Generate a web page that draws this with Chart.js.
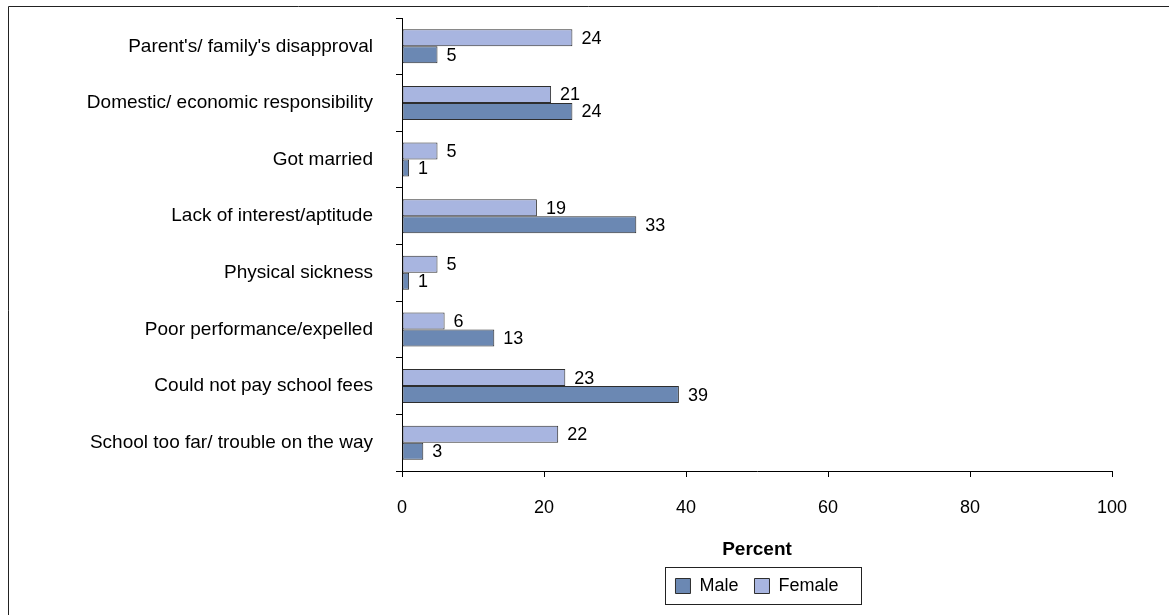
<!DOCTYPE html>
<html>
<head>
<meta charset="utf-8">
<script src="https://cdn.jsdelivr.net/npm/chart.js@4.4.0/dist/chart.umd.min.js"></script>
<style>
  html, body { margin: 0; padding: 0; background: #ffffff; }
  #wrap { width: 1169px; height: 615px; position: relative; }
</style>
</head>
<body>
<div id="wrap"><canvas id="chart" width="1169" height="615"></canvas></div>
<script>
// Reasons for leaving school, percent by sex
const categories = [
  "Parent's/ family's disapproval",
  "Domestic/ economic responsibility",
  "Got married",
  "Lack of interest/aptitude",
  "Physical sickness",
  "Poor performance/expelled",
  "Could not pay school fees",
  "School too far/ trouble on the way"
];
const maleValues   = [5, 24, 1, 33, 1, 13, 39, 3];
const femaleValues = [24, 21, 5, 19, 5, 6, 23, 22];
const xTickValues  = [0, 20, 40, 60, 80, 100];

const MALE_COLOR = '#6b88b3';
const FEMALE_COLOR = '#a8b5e0';
const EDGE = '#2e2e2e';
const FONT = "'Liberation Sans', Arial, Helvetica, sans-serif";

Chart.defaults.font.family = FONT;
Chart.defaults.font.size = 18;
Chart.defaults.color = '#000';

// Outer frame lines along the left and top edges
const framePlugin = {
  id: 'frame',
  beforeDraw(chart) {
    const ctx = chart.ctx;
    ctx.save();
    ctx.fillStyle = '#fff';
    ctx.fillRect(0, 0, chart.width, chart.height);
    ctx.strokeStyle = '#222';
    ctx.lineWidth = 1;
    ctx.beginPath();
    ctx.moveTo(8.5, chart.height);
    ctx.lineTo(8.5, 6.5);
    ctx.lineTo(chart.width, 6.5);
    ctx.stroke();
    ctx.restore();
  }
};

// Value labels at the end of each bar
const valueLabelPlugin = {
  id: 'valueLabels',
  afterDatasetsDraw(chart) {
    const ctx = chart.ctx;
    ctx.save();
    ctx.font = '18px ' + FONT;
    ctx.fillStyle = '#000';
    ctx.textAlign = 'left';
    ctx.textBaseline = 'middle';
    chart.data.datasets.forEach((ds, di) => {
      const meta = chart.getDatasetMeta(di);
      meta.data.forEach((bar, i) => {
        ctx.fillText(String(ds.data[i]), bar.x + 9, bar.y + 1);
      });
    });
    ctx.restore();
  }
};

// Boxed outline around the legend items
const legendBoxPlugin = {
  id: 'legendBox',
  afterDraw(chart) {
    const lg = chart.legend;
    if (!lg || !lg.legendHitBoxes || !lg.legendHitBoxes.length) return;
    const hb = lg.legendHitBoxes;
    const first = hb[0], last = hb[hb.length - 1];
    const cy = first.top + first.height / 2;
    const x0 = Math.round(first.left - 10) + 0.5;
    const x1 = Math.round(last.left + last.width + 22) + 0.5;
    const y0 = Math.round(cy - 19) + 0.5;
    const y1 = Math.round(cy + 18) + 0.5;
    const ctx = chart.ctx;
    ctx.save();
    ctx.strokeStyle = '#222';
    ctx.lineWidth = 1;
    ctx.strokeRect(x0, y0, x1 - x0, y1 - y0);
    ctx.restore();
  }
};

new Chart(document.getElementById('chart'), {
  type: 'bar',
  data: {
    labels: categories,
    datasets: [
      {
        label: 'Female',
        data: femaleValues,
        backgroundColor: FEMALE_COLOR,
        borderColor: EDGE,
        borderWidth: 1,
        borderSkipped: false,
        categoryPercentage: 0.6,
        barPercentage: 1.0
      },
      {
        label: 'Male',
        data: maleValues,
        backgroundColor: MALE_COLOR,
        borderColor: EDGE,
        borderWidth: 1,
        borderSkipped: false,
        categoryPercentage: 0.6,
        barPercentage: 1.0
      }
    ]
  },
  options: {
    indexAxis: 'y',
    responsive: false,
    animation: false,
    devicePixelRatio: 1,
    layout: { padding: { left: 0, right: 57, top: 18, bottom: 10 } },
    plugins: {
      tooltip: { enabled: false },
      legend: {
        position: 'bottom',
        fullSize: false,
        labels: {
          boxWidth: 15,
          boxHeight: 15,
          padding: 16,
          color: '#000',
          font: { size: 18 },
          sort: (a, b) => b.datasetIndex - a.datasetIndex
        }
      }
    },
    scales: {
      x: {
        type: 'linear',
        min: 0,
        max: 100,
        afterBuildTicks(scale) {
          scale.ticks = xTickValues.map(v => ({ value: v }));
        },
        afterFit(scale) { scale.height = 90; },
        grid: {
          drawOnChartArea: false,
          drawTicks: true,
          tickLength: 6,
          color: '#000'
        },
        border: { display: true, color: '#000', width: 1 },
        ticks: { padding: 20, color: '#000', font: { size: 18 } },
        title: {
          display: true,
          text: 'Percent',
          color: '#000',
          font: { size: 19, weight: 'bold', lineHeight: 1.0 },
          padding: { top: 0, bottom: 2 }
        }
      },
      y: {
        type: 'category',
        afterFit(scale) {
          scale.width = 402;
          scale.paddingTop = 0;
          scale.paddingBottom = 0;
        },
        grid: {
          offset: true,
          drawOnChartArea: false,
          drawTicks: true,
          tickLength: 6,
          color: '#000'
        },
        border: { display: true, color: '#000', width: 1 },
        ticks: { padding: 23, color: '#000', font: { size: 19 }, autoSkip: false }
      }
    }
  },
  plugins: [framePlugin, valueLabelPlugin, legendBoxPlugin]
});
</script>
</body>
</html>
